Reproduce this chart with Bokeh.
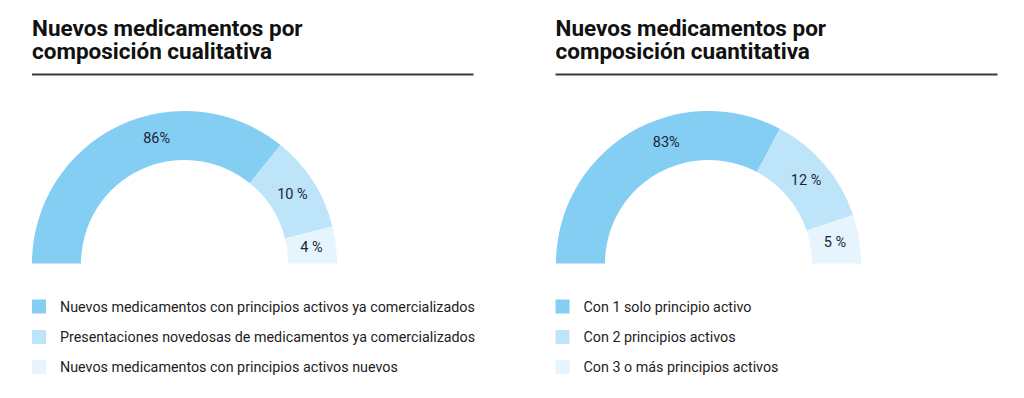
import math
from bokeh.plotting import figure
from bokeh.models import Range1d, ColumnDataSource
from bokeh.core.properties import value
from bokeh.embed import file_html
from bokeh.resources import INLINE

# ---------------- data ----------------
title_qual = ["Nuevos medicamentos por", "composición cualitativa"]
title_quant = ["Nuevos medicamentos por", "composición cuantitativa"]

cat_qual = ["Nuevos medicamentos con principios activos ya comercializados",
            "Presentaciones novedosas de medicamentos ya comercializados",
            "Nuevos medicamentos con principios activos nuevos"]
pct_qual = [86, 10, 4]
lbl_qual = ["86%", "10 %", "4 %"]
# share of the half ring each segment occupies as drawn in the reference
arc_qual = [71.7, 20.5, 7.8]

cat_quant = ["Con 1 solo principio activo",
             "Con 2 principios activos",
             "Con 3 o más principios activos"]
pct_quant = [83, 12, 5]
lbl_quant = ["83%", "12 %", "5 %"]
arc_quant = [65.5, 24.2, 10.3]

colors = ["#84CEF4", "#BEE4F9", "#E6F4FD"]

# ---------------- layout ----------------
W, H = 1008, 382
FONT = "Roboto"
TXT = "#1d1d1f"
LABEL_POS = [0.6, 0.5, 0.5]   # where along each segment its label sits

p = figure(width=W, height=H, output_backend="svg", toolbar_location=None,
           x_range=Range1d(0, W), y_range=Range1d(398 - H, 398),
           min_border=0, outline_line_color=None)
p.axis.visible = False
p.grid.visible = False
p.background_fill_color = "white"
p.border_fill_color = "white"


def Y(img_y):
    return 398 - img_y


def panel(x0, rule_x1, cx, title, cats, labels, arcs):
    # title
    p.text(x=[x0, x0], y=[Y(27.5), Y(50.5)], text=title,
           text_font=value(FONT), text_font_style="bold",
           text_font_size="22.5px", text_color="#111111",
           text_baseline="middle", text_align="left")
    p.segment(x0=[x0], y0=[Y(74)], x1=[rule_x1], y1=[Y(74)],
              line_color="#3a3a3a", line_width=2)
    # half donut
    cy = Y(263)
    r_out, r_in = 152.5, 103.5
    total = sum(arcs)
    starts, ends, mids = [], [], []
    a = math.pi
    for s, f in zip(arcs, LABEL_POS):
        span = math.pi * s / total
        starts.append(a - span)
        ends.append(a)
        mids.append(a - span * f)
        a -= span
    src = ColumnDataSource(dict(start=starts, end=ends, color=colors))
    p.annular_wedge(x=cx, y=cy, inner_radius=r_in, outer_radius=r_out,
                    start_angle="start", end_angle="end", fill_color="color",
                    line_color=None, source=src)
    r_lab = (r_in + r_out) / 2
    lx = [cx + r_lab * math.cos(m) for m in mids]
    ly = [cy + r_lab * math.sin(m) for m in mids]
    p.text(x=lx, y=ly, text=labels, text_font=value(FONT),
           text_font_size="14.5px", text_color="#1c2633",
           text_align="center", text_baseline="middle")
    # legend
    rows = [Y(306), Y(336.5), Y(366.5)]
    p.rect(x=[x0 + 7] * 3, y=rows, width=14, height=14,
           width_units="screen", height_units="screen",
           fill_color=colors, line_color=None)
    p.text(x=[x0 + 28] * 3, y=rows, text=cats, text_font=value(FONT),
           text_font_size="14.3px", text_color=TXT,
           text_align="left", text_baseline="middle")


panel(31.5, 473, 184, title_qual, cat_qual, lbl_qual, arc_qual)
panel(555, 997, 708, title_quant, cat_quant, lbl_quant, arc_quant)

open("out.html", "w").write(file_html(p, INLINE))
